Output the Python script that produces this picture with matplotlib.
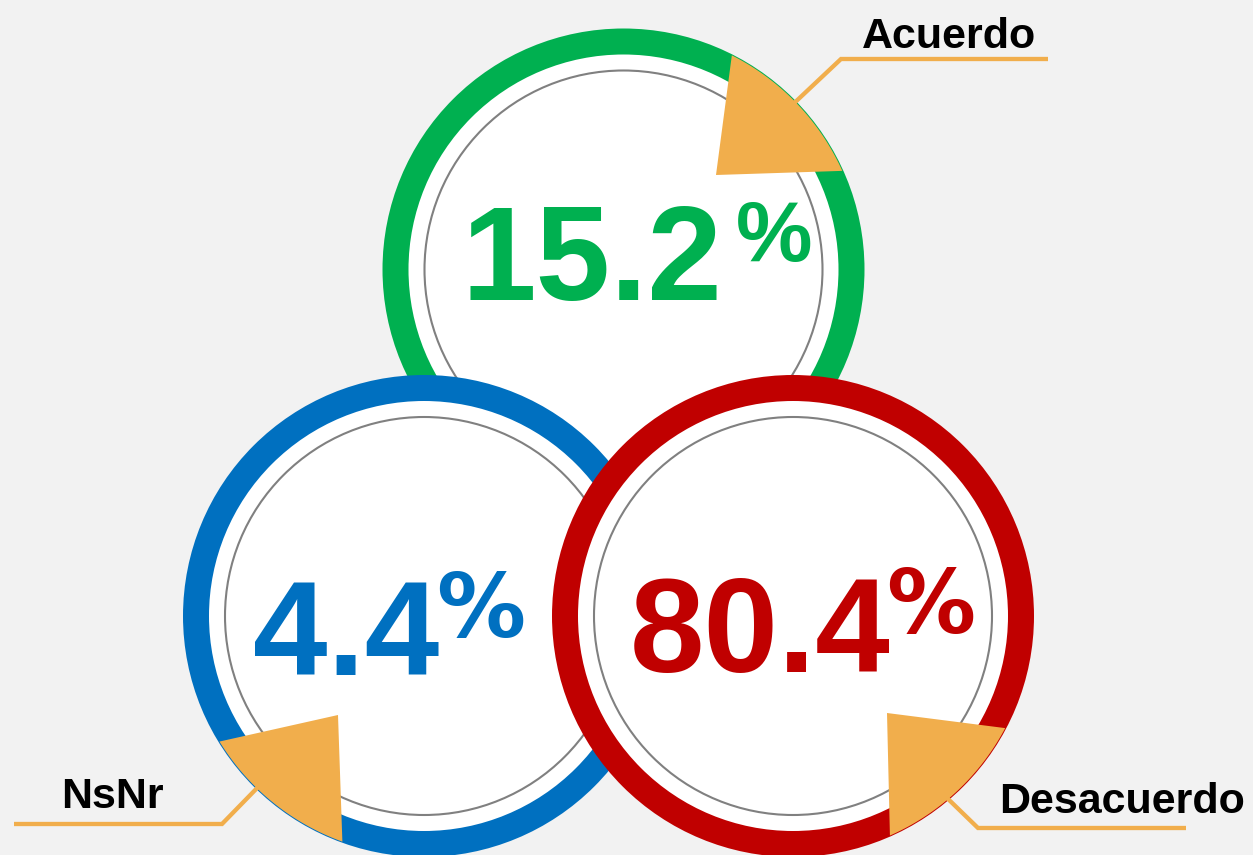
import matplotlib
matplotlib.use("Agg")
import numpy as np
import matplotlib.pyplot as plt
from matplotlib.patches import Circle, Polygon

# ---- data ----
categories = ["Acuerdo", "NsNr", "Desacuerdo"]
values = [15.2, 4.4, 80.4]
colors = ["#00B050", "#0070C0", "#C00000"]

W, H = 1253, 855
BG = "#F2F2F2"
ORANGE = "#F1AE4C"
GRAY = "#808080"

fig = plt.figure(figsize=(W / 100, H / 100), dpi=100, facecolor=BG)
ax = fig.add_axes([0, 0, 1, 1])
ax.set_xlim(0, W)
ax.set_ylim(0, H)
ax.set_aspect("equal")
ax.axis("off")
ax.set_facecolor(BG)

def Y(py):
    return H - py

# layout per category (pixel coordinates of the design)
circle_centers = [(623.5, 269.5), (424, 616), (793, 616)]
R_OUT, RING, R_GRAY = 241, 26, 199
digit_pos = [(591.5, 300), (346, 675), (760.5, 672)]
pct_pos = [(736, 261), (436, 637), (886, 633)]
pct_font = [("Liberation Sans", 62), ("DejaVu Sans", 64), ("DejaVu Sans", 64)]
label_pos = [(949.5, 48), (112.5, 808), (1121.7, 813)]
leader_pts = [
    [(1048, 59), (841, 59), (790, 107)],
    [(14, 824), (222, 824), (262, 783)],
    [(1186, 828), (978, 828), (945, 796)],
]
# pointer: apex and the two corners lying on the ring's outer edge (px)
pointer_pts = [
    ((716, 175), (731, 57), (842, 171)),
    ((338, 715), (222, 740), (343, 840)),
    ((887, 713), (1005, 728), (891, 838)),
]
R_EDGE = 240

for i, (cat, val, col) in enumerate(zip(categories, values, colors)):
    cx, cy = circle_centers[i]
    z = 1 + i * 3
    ax.add_patch(Circle((cx, Y(cy)), R_OUT, facecolor=col, edgecolor="none", zorder=z))
    ax.add_patch(Circle((cx, Y(cy)), R_OUT - RING, facecolor="white", edgecolor="none", zorder=z + 1))
    ax.add_patch(Circle((cx, Y(cy)), R_GRAY, facecolor="none", edgecolor=GRAY, lw=1.5, zorder=z + 2))

for i, (cat, val, col) in enumerate(zip(categories, values, colors)):
    # leader line
    xs = [p[0] for p in leader_pts[i]]
    ys = [Y(p[1]) for p in leader_pts[i]]
    ax.plot(xs, ys, color=ORANGE, lw=3.1, solid_joinstyle="miter",
            solid_capstyle="butt", zorder=20)
    # pointer shape: apex + arc along the ring's outer edge
    cx, cy = circle_centers[i]
    cxy = np.array([cx, Y(cy)])
    apex, pa, pb = [np.array([p[0], Y(p[1])], float) for p in pointer_pts[i]]
    a1 = np.arctan2(*(pa - cxy)[::-1])
    a2 = np.arctan2(*(pb - cxy)[::-1])
    d = (a2 - a1 + np.pi) % (2 * np.pi) - np.pi
    ang = a1 + np.linspace(0, d, 40)
    arc = np.column_stack([cxy[0] + R_EDGE * np.cos(ang), cxy[1] + R_EDGE * np.sin(ang)])
    verts = np.vstack([apex, arc])
    ax.add_patch(Polygon(verts, closed=True, facecolor=ORANGE, edgecolor="none", zorder=21))
    # value text
    dx, dy = digit_pos[i]
    ax.text(dx, Y(dy), f"{val:.1f}", color=col, fontsize=96.5,
            fontfamily="Liberation Sans", fontweight="bold",
            ha="center", va="baseline", zorder=30)
    px, py = pct_pos[i]
    fam, fs = pct_font[i]
    ax.text(px, Y(py), "%", color=col, fontsize=fs,
            fontfamily=fam, fontweight="bold",
            ha="left", va="baseline", zorder=30)
    # category label
    lx, ly = label_pos[i]
    ax.text(lx, Y(ly), cat, color="black", fontsize=31,
            fontfamily="Liberation Sans", fontweight="bold",
            ha="center", va="baseline", zorder=30)

fig.savefig("out.png", dpi=100, facecolor=BG)
